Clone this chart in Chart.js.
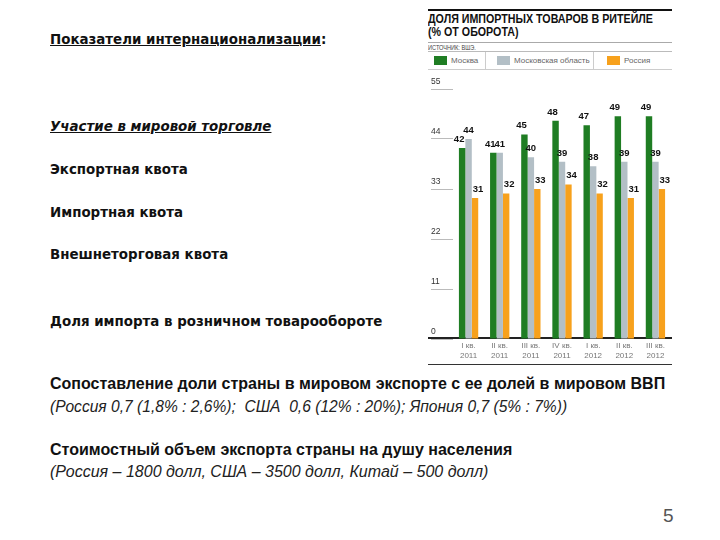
<!DOCTYPE html>
<html>
<head>
<meta charset="utf-8">
<script src="https://cdn.jsdelivr.net/npm/chart.js@4"></script>
<style>
  body { margin: 0; width: 720px; height: 540px; background: #fff; position: relative; overflow: hidden;
         font-family: "Liberation Sans", Arial, sans-serif; color: #111; }
  .t { position: absolute; left: 50px; white-space: nowrap; font-family: "DejaVu Sans", sans-serif;
       font-size: 13.4px; font-weight: bold; }
  .b { position: absolute; left: 50px; white-space: nowrap; font-size: 16px; font-weight: bold; }
  .i { font-style: italic; font-weight: normal; font-size: 15.6px; color: #222; }
  .u { text-decoration: underline; }
  .hl { position: absolute; left: 428px; width: 244px; background: #aaa; height: 1px; }
  .vl { position: absolute; top: 52px; height: 17px; width: 1px; background: #ccc; }
  .head { position: absolute; left: 428px; white-space: nowrap; transform-origin: 0 0; }
  #legend { position: absolute; top: 56px; left: 434px; height: 12px; font-size: 8px; color: #666; }
  #legend span.item { position: absolute; top: 0; white-space: nowrap; line-height: 10px; }
  #legend i { display: inline-block; width: 13px; height: 9px; vertical-align: top; margin-right: 4px; }
  #wrap { position: absolute; left: 422px; top: 72px; width: 256px; height: 296px; }
</style>
</head>
<body>
<div class="t" style="top:32px"><span class="u">Показатели интернационализации</span>:</div>
<div class="t u" style="top:119px;font-style:italic">Участие в мировой торговле</div>
<div class="t" style="top:162px">Экспортная квота</div>
<div class="t" style="top:205px">Импортная квота</div>
<div class="t" style="top:247px">Внешнеторговая квота</div>
<div class="t" style="top:314px">Доля импорта в розничном товарообороте</div>
<div class="b" style="top:375px">Сопоставление доли страны в мировом экспорте с ее долей в мировом ВВП</div>
<div class="b i" style="top:398px">(Россия 0,7 (1,8% : 2,6%);&nbsp; США&nbsp; 0,6 (12% : 20%); Япония 0,7 (5% : 7%))</div>
<div class="b" style="top:441px">Стоимостный объем экспорта страны на душу населения</div>
<div class="b i" style="top:463px;font-size:16px">(Россия – 1800 долл, США – 3500 долл, Китай – 500 долл)</div>
<div style="position:absolute;left:663px;top:505px;font-size:19px;color:#555">5</div>

<div class="hl" style="top:9px;height:2px;background:#111"></div>
<div class="head" style="top:13px;font-size:12px;font-weight:bold;line-height:13px;transform:scaleX(0.89)">ДОЛЯ ИМПОРТНЫХ ТОВАРОВ В РИТЕЙЛЕ<br>(% ОТ ОБОРОТА)</div>
<div class="hl" style="top:42px"></div>
<div class="head" style="top:44px;font-size:7px;color:#444;transform:scaleX(0.8)">ИСТОЧНИК: ВШЭ.</div>
<div class="hl" style="top:51px;background:#bbb"></div>
<div class="vl" style="left:485px"></div>
<div class="vl" style="left:593px"></div>
<div id="legend"></div>
<div class="hl" style="top:69px;background:#ccc"></div>
<div class="hl" style="top:337px;height:1.5px;background:#222"></div>
<div class="hl" style="top:364px;background:#333"></div>

<div id="wrap"><canvas id="importChart"></canvas></div>

<script>
var quarters = [
  ['I кв.', '2011'],
  ['II кв.', '2011'],
  ['III кв.', '2011'],
  ['IV кв.', '2011'],
  ['I кв.', '2012'],
  ['II кв.', '2012'],
  ['III кв.', '2012'],
];
var moscow = [42, 41, 45, 48, 47, 49, 49];
var moscowRegion = [44, 41, 40, 39, 38, 39, 39];
var russia = [31, 32, 33, 34, 32, 31, 33];
var yTickStep = 11;

// подписи значений над столбцами
var valueLabels = {
  id: 'valueLabels',
  afterDatasetsDraw: function (chart) {
    var ctx = chart.ctx;
    var shift = [-3, 0, 3];
    ctx.save();
    ctx.font = 'bold 9.5px "Liberation Sans", Arial';
    ctx.fillStyle = '#111';
    ctx.textAlign = 'center';
    ctx.textBaseline = 'bottom';
    chart.data.datasets.forEach(function (ds, i) {
      chart.getDatasetMeta(i).data.forEach(function (bar, j) {
        ctx.fillText(ds.data[j], bar.x + shift[i], bar.y - 4);
      });
    });
    ctx.restore();
  },
};

var ctx = document.getElementById('importChart').getContext('2d');
Chart.defaults.font.family = '"Liberation Sans", Arial, sans-serif';
var importChart = new Chart(ctx, {
  type: 'bar',
  data: {
    labels: quarters,
    datasets: [
      { label: 'Москва', data: moscow, backgroundColor: '#1f7d23' },
      { label: 'Московская область', data: moscowRegion, backgroundColor: '#b3bfc6' },
      { label: 'Россия', data: russia, backgroundColor: '#f7a11c' },
    ],
  },
  plugins: [valueLabels],
  options: {
    responsive: true,
    maintainAspectRatio: false,
    animation: false,
    categoryPercentage: 0.62,
    barPercentage: 1,
    layout: { padding: { left: 9, right: 7, top: 17, bottom: 5 } },
    plugins: {
      tooltip: { enabled: false },
      legend: { display: false },
    },
    scales: {
      x: {
        grid: { display: false, drawTicks: false },
        border: { display: false },
        ticks: { color: '#777', font: { size: 8, lineHeight: 1.25 }, padding: 2 },
      },
      y: {
        min: 0,
        max: 55,
        afterFit: function (axis) { axis.width = 22; },
        border: { display: false },
        grid: { drawOnChartArea: false, tickLength: 22, color: '#bbb' },
        ticks: { stepSize: yTickStep, crossAlign: 'far', color: '#333', font: { size: 8.5 }, labelOffset: -7 },
      },
    },
  },
});

// легенда в шапке, по наборам данных графика
var legendBox = document.getElementById('legend');
var legendX = [0, 63, 173];
importChart.data.datasets.forEach(function (ds, i) {
  var item = document.createElement('span');
  item.className = 'item';
  item.style.left = legendX[i] + 'px';
  item.innerHTML = '<i style="background:' + ds.backgroundColor + '"></i>' + ds.label;
  legendBox.appendChild(item);
});
</script>
</body>
</html>
